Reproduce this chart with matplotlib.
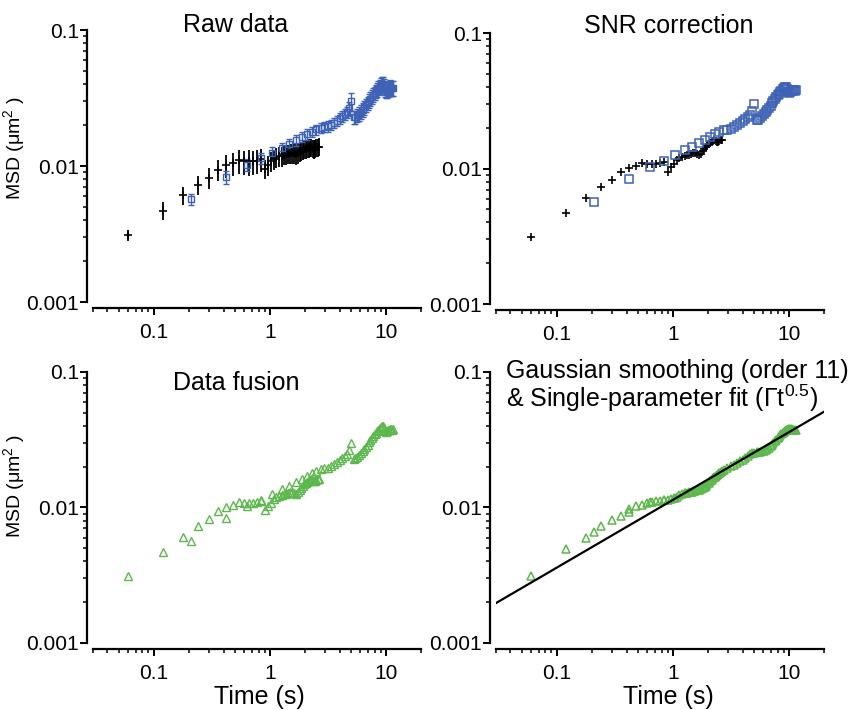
import matplotlib
matplotlib.use("Agg")
import matplotlib.pyplot as plt
import numpy as np

plt.rcParams['font.family'] = ['Liberation Sans', 'DejaVu Sans']
plt.rcParams['mathtext.fontset'] = 'custom'
plt.rcParams['mathtext.rm'] = 'Liberation Sans'
plt.rcParams['mathtext.it'] = 'Liberation Sans'

# short time-step data set (black crosses)
black_t = [0.06, 0.12, 0.18, 0.24, 0.30, 0.36, 0.42, 0.48, 0.54, 0.60,
           0.66, 0.72, 0.78, 0.84, 0.90, 0.96, 1.02, 1.08, 1.14, 1.20,
           1.26, 1.32, 1.38, 1.44, 1.50, 1.56, 1.62, 1.68, 1.74, 1.80,
           1.86, 1.92, 1.98, 2.04, 2.10, 2.16, 2.22, 2.28, 2.34, 2.40,
           2.46, 2.52, 2.58, 2.64]
black_raw = [0.0031, 0.0047, 0.0061, 0.0073, 0.0082, 0.0094, 0.0101, 0.0105, 0.0110, 0.0108,
             0.0108, 0.0108, 0.0109, 0.0112, 0.0095, 0.0102, 0.0108, 0.0113, 0.0116, 0.0118,
             0.0119, 0.0121, 0.0122, 0.0123, 0.0125, 0.0125, 0.0124, 0.0123, 0.0125, 0.0128,
             0.0130, 0.0132, 0.0133, 0.0134, 0.0135, 0.0136, 0.0137, 0.0137, 0.0135, 0.0134,
             0.0135, 0.0137, 0.0138, 0.0139]
black_err = [0.0003, 0.0007, 0.0009, 0.0012, 0.0014, 0.0017, 0.0019, 0.0020, 0.0022, 0.0022,
             0.0023, 0.0022, 0.0022, 0.0022, 0.0015, 0.0017, 0.0018, 0.0019, 0.0019, 0.0020,
             0.0020, 0.0020, 0.0020, 0.0020, 0.0021, 0.0021, 0.0021, 0.0021, 0.0021, 0.0021,
             0.0021, 0.0021, 0.0021, 0.0021, 0.0021, 0.0021, 0.0021, 0.0021, 0.0021, 0.0021,
             0.0021, 0.0021, 0.0021, 0.0021]
black_snr = [0.0031, 0.0047, 0.0061, 0.0073, 0.0082, 0.0094, 0.0101, 0.0105, 0.0110, 0.0108,
             0.0108, 0.0108, 0.0109, 0.0112, 0.0095, 0.0102, 0.0108, 0.0115, 0.0119, 0.0122,
             0.0123, 0.0125, 0.0126, 0.0128, 0.0131, 0.0130, 0.0127, 0.0126, 0.0129, 0.0135,
             0.0140, 0.0145, 0.0149, 0.0152, 0.0155, 0.0158, 0.0160, 0.0161, 0.0159, 0.0157,
             0.0158, 0.0160, 0.0161, 0.0162]

# long time-step data set (blue squares)
blue_t = [0.21, 0.42, 0.63, 0.84, 1.05, 1.26, 1.47, 1.68, 1.89, 2.10,
          2.31, 2.52, 2.73, 2.94, 3.15, 3.36, 3.57, 3.78, 3.99, 4.20,
          4.41, 4.62, 4.83, 5.04, 5.25, 5.46, 5.67, 5.88, 6.09, 6.30,
          6.51, 6.72, 6.93, 7.14, 7.35, 7.56, 7.77, 7.98, 8.19, 8.40,
          8.61, 8.82, 9.03, 9.24, 9.45, 9.66, 9.87, 10.08, 10.29, 10.50,
          10.71, 10.92, 11.13, 11.34, 11.55]
blue_msd = [0.0057, 0.0083, 0.0102, 0.0114, 0.0125, 0.0136, 0.0145, 0.0155, 0.0163, 0.0171,
            0.0179, 0.0186, 0.0191, 0.0194, 0.0196, 0.0201, 0.0208, 0.0216, 0.0224, 0.0232,
            0.0240, 0.0248, 0.0265, 0.0300, 0.0228, 0.0230, 0.0236, 0.0243, 0.0251, 0.0260,
            0.0270, 0.0280, 0.0291, 0.0302, 0.0313, 0.0324, 0.0335, 0.0346, 0.0356, 0.0366,
            0.0376, 0.0385, 0.0393, 0.0399, 0.0398, 0.0385, 0.0368, 0.0362, 0.0366, 0.0372,
            0.0376, 0.0378, 0.0377, 0.0376, 0.0377]
blue_err = [0.0005, 0.0009, 0.0010, 0.0011, 0.0012, 0.0012, 0.0013, 0.0014, 0.0014, 0.0015,
            0.0016, 0.0016, 0.0017, 0.0017, 0.0018, 0.0018, 0.0019, 0.0019, 0.0020, 0.0021,
            0.0022, 0.0023, 0.0030, 0.0045, 0.0025, 0.0026, 0.0027, 0.0028, 0.0029, 0.0030,
            0.0031, 0.0032, 0.0033, 0.0034, 0.0035, 0.0036, 0.0037, 0.0038, 0.0040, 0.0042,
            0.0044, 0.0046, 0.0048, 0.0050, 0.0050, 0.0050, 0.0048, 0.0048, 0.0048, 0.0048,
            0.0048, 0.0048, 0.0048, 0.0048, 0.0048]

# gaussian smoothed fused data, at the same times
smooth_black = [0.0031, 0.0049, 0.0060, 0.0073, 0.0081, 0.0087, 0.0093, 0.0102, 0.0105, 0.0107,
                0.0110, 0.0111, 0.0112, 0.0113, 0.0113, 0.0115, 0.0117, 0.0120, 0.0123, 0.0125,
                0.0127, 0.0128, 0.0130, 0.0131, 0.0132, 0.0133, 0.0134, 0.0135, 0.0137, 0.0139,
                0.0141, 0.0144, 0.0148, 0.0152, 0.0156, 0.0160, 0.0164, 0.0168, 0.0171, 0.0175,
                0.0178, 0.0181, 0.0184, 0.0187]
smooth_blue = [0.0066, 0.0098, 0.0109, 0.0113, 0.0118, 0.0127, 0.0131, 0.0135, 0.0142, 0.0156,
               0.0169, 0.0181, 0.0190, 0.0196, 0.0201, 0.0207, 0.0213, 0.0219, 0.0225, 0.0232,
               0.0240, 0.0246, 0.0251, 0.0254, 0.0256, 0.0257, 0.0258, 0.0260, 0.0262, 0.0266,
               0.0270, 0.0276, 0.0283, 0.0291, 0.0299, 0.0308, 0.0316, 0.0325, 0.0333, 0.0342,
               0.0350, 0.0357, 0.0363, 0.0368, 0.0372, 0.0375, 0.0377, 0.0378, 0.0378, 0.0377,
               0.0377, 0.0376, 0.0376, 0.0375, 0.0375]

# single parameter fit  MSD = gamma * t^0.5
gamma = 0.01137
alpha = 0.5
fit_t = [0.03, 20]

xticks = [0.1, 1, 10]
xticklabels = ['0.1', '1', '10']
yticks = [0.001, 0.01, 0.1]
yticklabels = ['0.001', '0.01', '0.1']

BLUE = '#3d62b6'
GREEN = '#5cb84c'

fig = plt.figure(figsize=(8.56, 7.10), dpi=100)
positions = [[0.1086, 0.5746, 0.3832, 0.3831],
             [0.5794, 0.5718, 0.3832, 0.3817],
             [0.1086, 0.0944, 0.3832, 0.3817],
             [0.5794, 0.0944, 0.3832, 0.3817]]
axes = [fig.add_axes(p) for p in positions]

for ax in axes:
    ax.set_xscale('log')
    ax.set_yscale('log')
    ax.set_xlim(0.03, 20)
    ax.set_ylim(0.001, 0.1)
    for s in ['top', 'right']:
        ax.spines[s].set_visible(False)
    ax.spines['left'].set_position(('outward', 4))
    ax.spines['bottom'].set_position(('outward', 4))
    ax.spines['left'].set_linewidth(1.6)
    ax.spines['bottom'].set_linewidth(1.6)
    ax.set_xticks(xticks)
    ax.set_xticklabels(xticklabels)
    ax.set_yticks(yticks)
    ax.set_yticklabels(yticklabels)
    ax.tick_params(which='major', direction='out', length=5, width=1.4, labelsize=15)
    ax.tick_params(which='minor', direction='out', length=3, width=1.1)
    ax.tick_params(axis='y', which='major', pad=1)
    ax.tick_params(axis='x', which='major', pad=6)
    ax.set_facecolor('none')

# raw data
ax = axes[0]
ax.errorbar(black_t, black_raw, yerr=black_err, fmt='+', color='black', ms=6, mew=1.2,
            elinewidth=1.3, capsize=0)
ax.errorbar(blue_t, blue_msd, yerr=blue_err, fmt='s', color=BLUE, mfc='none', ms=5, mew=1,
            elinewidth=1, capsize=2)
ax.text(0.434, 1.018, 'Raw data', transform=ax.transAxes, ha='center', va='center', fontsize=18)

# SNR correction
ax = axes[1]
ax.plot(black_t, black_snr, '+', color='black', ms=6, mew=1.2)
ax.plot(blue_t, blue_msd, 's', color=BLUE, mfc='none', ms=5.5, mew=1.1)
ax.text(0.526, 1.027, 'SNR correction', transform=ax.transAxes, ha='center', va='center', fontsize=18)

# data fusion
ax = axes[2]
ax.plot(black_t, black_snr, '^', color=GREEN, mfc='none', ms=5.5, mew=1)
ax.plot(blue_t, blue_msd, '^', color=GREEN, mfc='none', ms=5.5, mew=1)
ax.text(0.436, 0.961, 'Data fusion', transform=ax.transAxes, ha='center', va='center', fontsize=18)

# smoothing and fit
ax = axes[3]
ax.plot(black_t, smooth_black, '^', color=GREEN, mfc='none', ms=6, mew=1.1)
ax.plot(blue_t, smooth_blue, '^', color=GREEN, mfc='none', ms=6, mew=1.1)
fit_y = gamma * np.array(fit_t) ** alpha
ax.plot(fit_t, fit_y, color='black', lw=1.6)
ax.text(0.03, 0.978, 'Gaussian smoothing (order 11)', transform=ax.transAxes,
        ha='left', va='baseline', fontsize=18)
ax.text(0.03, 0.872, '& Single-parameter fit (Γt$^{0.5}$)', transform=ax.transAxes,
        ha='left', va='baseline', fontsize=18)

for ax in [axes[0], axes[2]]:
    ax.set_ylabel('MSD (μm$^2$ )', fontsize=14)
axes[0].yaxis.set_label_coords(-0.2, 0.566)
axes[2].yaxis.set_label_coords(-0.2, 0.579)

axes[2].set_xlabel('Time (s)', fontsize=18)
axes[3].set_xlabel('Time (s)', fontsize=18)
axes[2].xaxis.set_label_coords(0.506, -0.155)
axes[3].xaxis.set_label_coords(0.527, -0.155)

fig.savefig('out.png', dpi=100)
